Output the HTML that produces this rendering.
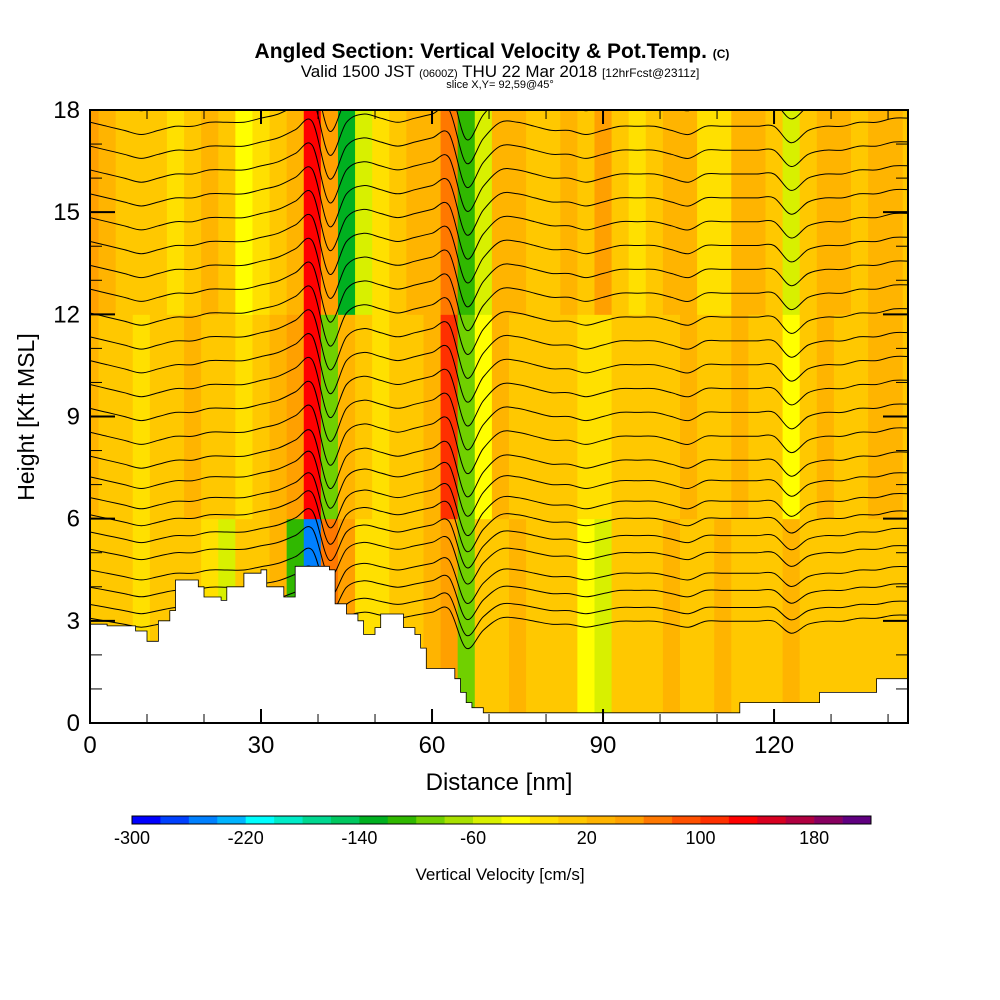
<!DOCTYPE html>
<html><head><meta charset="utf-8"><style>
body{margin:0;background:#fff;}
svg{display:block;font-family:"Liberation Sans",sans-serif;}
</style></head><body>
<svg id="chart" width="1000" height="1000" viewBox="0 0 1000 1000" xmlns="http://www.w3.org/2000/svg">
<text x="492" y="58" text-anchor="middle" font-size="21" font-weight="bold">Angled Section: Vertical Velocity &amp; Pot.Temp. <tspan font-size="12">(C)</tspan></text>
<text x="500" y="77" text-anchor="middle" font-size="17">Valid 1500 JST <tspan font-size="11">(0600Z)</tspan> THU 22 Mar 2018 <tspan font-size="12">[12hrFcst@2311z]</tspan></text>
<text x="500" y="88" text-anchor="middle" font-size="11">slice X,Y= 92,59@45°</text>
<defs><clipPath id="pc"><rect x="90" y="110" width="818" height="613"/></clipPath></defs>
<g id="plot" clip-path="url(#pc)"></g>
<g id="axes"></g>
<g id="cbar"></g>
<text x="500" y="880" text-anchor="middle" font-size="17">Vertical Velocity [cm/s]</text>
<text x="499" y="790" text-anchor="middle" font-size="24">Distance [nm]</text>
<text transform="translate(34,417) rotate(-90)" text-anchor="middle" font-size="23">Height [Kft MSL]</text>
</svg>
<script>
const xTicks=[0,30,60,90,120];
const yTicks=[0,3,6,9,12,15,18];
const cbLevels=[-300,-280,-260,-240,-220,-200,-180,-160,-140,-120,-100,-80,-60,-40,-20,0,20,40,60,80,100,120,140,160,180,200];
const cbLabels=[-300,-220,-140,-60,20,100,180];
const cbColors=["#0000ff","#0040ff","#0080ff","#00b4ff","#00ffff","#00ecc8","#00d890","#00c860","#00b020","#30b800","#70d000","#a8e000","#d8f000","#ffff00","#ffe000","#ffc800","#ffb400","#ffa000","#ff7800","#ff5000","#ff3000","#ff0000","#d80020","#b00040","#880060","#600080"];
// columns every 3 nm, x = 0..141
const colX=[0,3,6,9,12,15,18,21,24,27,30,33,36,39,42,45,48,51,54,57,60,63,66,69,72,75,78,81,84,87,90,93,96,99,102,105,108,111,114,117,120,123,126,129,132,135,138,141];
const wTop=[40,20,0,0,0,-20,0,20,0,-40,-20,0,20,120,40,-140,-60,-20,0,20,20,60,-120,-60,20,20,0,0,20,0,40,0,-20,0,20,20,-20,-20,20,20,0,-60,0,20,20,0,20,20];
const wMid=[20,0,0,-20,0,0,20,0,0,-20,0,20,40,120,-100,20,0,-20,0,0,20,100,-100,-40,20,0,0,0,0,-20,-20,0,0,0,0,20,0,0,20,0,0,-40,0,20,0,0,20,20];
const wLow=[0,0,0,-20,0,0,0,-20,-60,0,0,20,-120,-260,60,40,-20,-20,0,0,20,40,-100,0,0,20,0,0,0,-40,-60,0,0,0,20,0,0,20,0,0,0,20,0,0,0,0,0,0];
// terrain (kft) step profile
const terrX=[0,3,8,10,12,14,15,19,20,23,24,27,30,31,34,36,42,43,45,47,48,50,51,55,57,58,59,64,65,66,67,69,113,114,125,128,137,138,144];
const terrH=[2.9,2.85,2.7,2.4,3.0,3.3,4.2,4.0,3.7,3.6,4.0,4.4,4.5,4.0,3.7,4.6,4.5,3.5,3.2,3.0,2.6,2.8,3.2,2.8,2.6,2.2,1.6,1.3,0.9,0.6,0.45,0.3,0.3,0.6,0.6,0.9,0.9,1.3,1.3];
// potential temperature contour base heights (kft) and displacement profile (kft) at colX
const thetaBase=[2.9,3.3,3.8,4.3,4.9,5.4,5.9,6.4,7.0,7.6,8.3,9.0,9.7,10.4,11.1,11.8,12.5,13.2,13.9,14.6,15.3,16.0,16.7,17.4,18.1];
const thetaDisp=[0.2,0.1,0,-0.1,0,0.1,0.1,0.2,0.2,0.2,0.3,0.4,0.6,0.8,-0.6,0.2,0.4,0.3,0.2,0.3,0.4,0.5,-0.8,-0.2,0.2,0.2,0.1,0,0,-0.1,0,0.1,0.1,0.1,0,-0.1,0.1,0.1,0.1,0.1,0.1,-0.3,0,0.1,0.1,0.2,0.2,0.3];

const X0=90,X1=908,Y0=723,Y1=110;
const sx=v=>X0+v*(X1-X0)/143.5;
const sy=v=>Y0-v*(Y0-Y1)/18;
const NS="http://www.w3.org/2000/svg";
function mk(tag,attrs,parent){const e=document.createElementNS(NS,tag);for(const k in attrs)e.setAttribute(k,attrs[k]);parent.appendChild(e);return e;}
function col(w){let i=0;for(let k=0;k<cbLevels.length;k++){if(w>=cbLevels[k])i=k;}return cbColors[i];}
const plot=document.getElementById('plot');
mk('rect',{x:X0,y:Y1,width:X1-X0,height:Y0-Y1,fill:col(0)},plot);
const bands=[[wLow,0,6],[wMid,6,12],[wTop,12,18]];
bands.forEach(([arr,lo,hi])=>{
  arr.forEach((w,i)=>{
    const r=mk('rect',{x:sx(colX[i]-1.5),y:sy(hi),width:sx(3)-sx(0)+0.5,height:sy(lo)-sy(hi)+0.5,fill:col(w)},plot);
    
    
  });
});
// contour lines (smoothed)
thetaBase.forEach((b)=>{
  const scale=0.7+0.5*Math.min(1,b/8);
  const pts=colX.map((x,i)=>[sx(x),sy(b+thetaDisp[i]*scale)]);
  pts.push([sx(144),sy(b+thetaDisp[thetaDisp.length-1]*scale)]);
  let d='M'+pts[0][0].toFixed(1)+','+pts[0][1].toFixed(1);
  for(let i=0;i<pts.length-1;i++){
    const p0=pts[Math.max(0,i-1)],p1=pts[i],p2=pts[i+1],p3=pts[Math.min(pts.length-1,i+2)];
    const c1=[p1[0]+(p2[0]-p0[0])/6,p1[1]+(p2[1]-p0[1])/6],c2=[p2[0]-(p3[0]-p1[0])/6,p2[1]-(p3[1]-p1[1])/6];
    d+='C'+c1[0].toFixed(1)+','+c1[1].toFixed(1)+' '+c2[0].toFixed(1)+','+c2[1].toFixed(1)+' '+p2[0].toFixed(1)+','+p2[1].toFixed(1);
  }
  const p=mk('path',{d:d,fill:'none',stroke:'#000','stroke-width':1},plot);
  
  
});
// terrain
let td='M'+sx(0)+','+sy(0);
terrX.forEach((x,i)=>{td+='L'+sx(x).toFixed(1)+','+sy(i?terrH[i-1]:terrH[0]).toFixed(1)+'L'+sx(x).toFixed(1)+','+sy(terrH[i]).toFixed(1);});
td+='L'+sx(144)+','+sy(0)+'Z';
const t=mk('path',{d:td,fill:'#fff',stroke:'#000','stroke-width':0.8},plot);


// axes
const ax=document.getElementById('axes');
const fr=mk('rect',{x:X0,y:Y1,width:X1-X0,height:Y0-Y1,fill:'none',stroke:'#000','stroke-width':2},ax);

for(let v=0;v<=140;v+=10){const maj=v%30==0,L=maj?14:9;
  mk('line',{x1:sx(v),x2:sx(v),y1:Y0,y2:Y0-L,stroke:'#000','stroke-width':maj?2:1},ax);
  mk('line',{x1:sx(v),x2:sx(v),y1:Y1,y2:Y1+L,stroke:'#000','stroke-width':maj?2:1},ax);}
for(let v=0;v<=18;v++){const maj=v%3==0,L=maj?25:12;
  mk('line',{x1:X0,x2:X0+L,y1:sy(v),y2:sy(v),stroke:'#000','stroke-width':maj?2:1},ax);
  mk('line',{x1:X1,x2:X1-L,y1:sy(v),y2:sy(v),stroke:'#000','stroke-width':maj?2:1},ax);}
xTicks.forEach(v=>{const e=mk('text',{x:sx(v),y:753,'text-anchor':'middle','font-size':24},ax);e.textContent=v;
  });
yTicks.forEach(v=>{const e=mk('text',{x:80,y:sy(v)+8,'text-anchor':'end','font-size':24},ax);e.textContent=v;
  });
// colorbar
const cb=document.getElementById('cbar');
const CB0=132,CB1=871,cw=(CB1-CB0)/cbColors.length;
const cbx=v=>CB0+(v-cbLevels[0])/20*cw;
cbColors.forEach((c,i)=>{const r=mk('rect',{x:CB0+i*cw,y:816,width:cw+0.3,height:8,fill:c},cb);
  });
mk('rect',{x:CB0,y:816,width:CB1-CB0,height:8,fill:'none',stroke:'#000','stroke-width':1},cb);
cbLabels.forEach(v=>{const e=mk('text',{x:cbx(v),y:844,'text-anchor':'middle','font-size':18},cb);e.textContent=v;
  });
</script>
</body></html>
